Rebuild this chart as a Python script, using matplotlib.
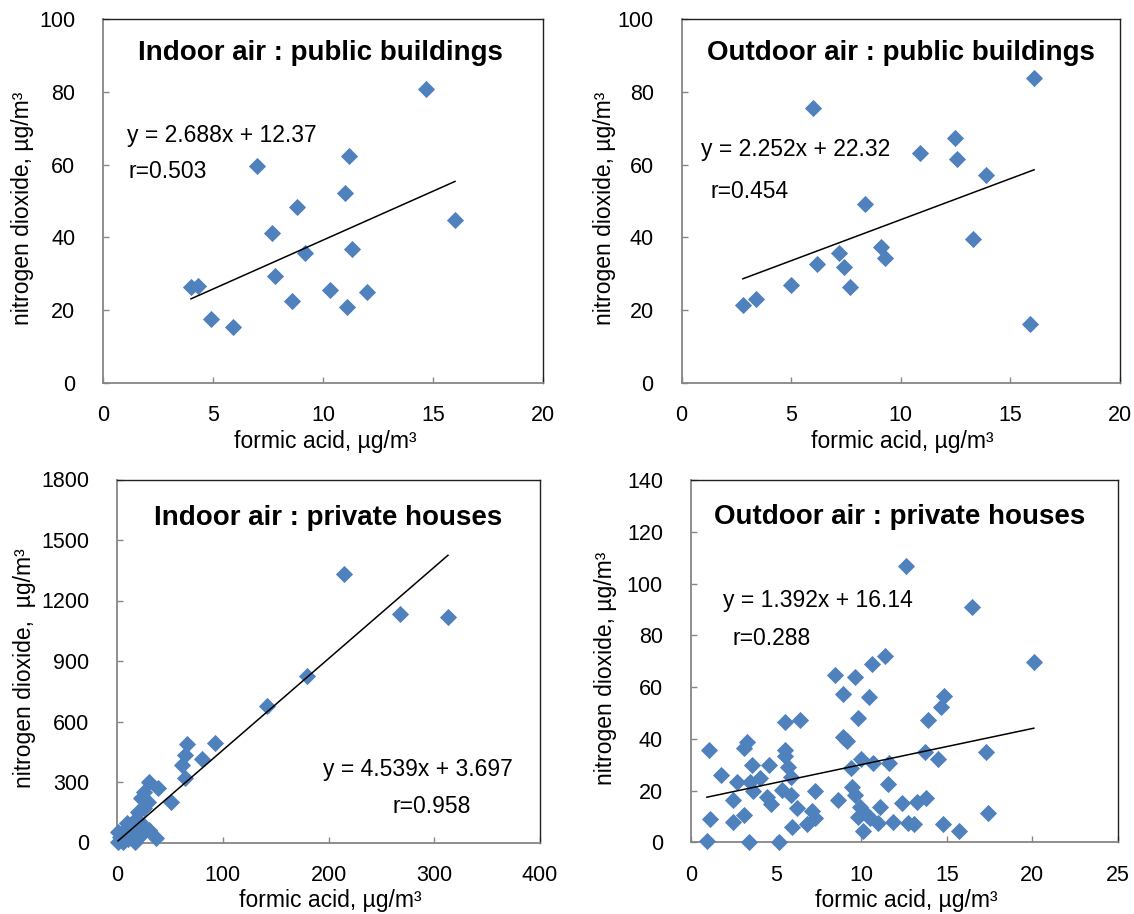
import matplotlib
matplotlib.use("Agg")
import matplotlib.pyplot as plt
import numpy as np

plt.rcParams['font.family'] = ['Liberation Sans', 'DejaVu Sans']

# ---------------- data ----------------
# Indoor air : public buildings
ipb_x = [14.7, 7.0, 11.2, 11.0, 8.8, 7.7, 16.0, 9.2, 11.3, 7.8, 4.0, 4.3, 10.3, 12.0, 8.6, 11.1, 4.9, 5.9]
ipb_y = [80.8, 59.6, 62.3, 52.2, 48.3, 41.3, 44.8, 35.6, 36.9, 29.4, 26.3, 26.7, 25.5, 25.0, 22.4, 20.9, 17.6, 15.4]

# Outdoor air : public buildings
opb_x = [16.1, 6.0, 12.5, 10.9, 12.6, 13.9, 8.4, 13.3, 9.1, 9.3, 7.2, 7.4, 6.2, 7.7, 5.0, 3.4, 2.8, 15.9]
opb_y = [83.9, 75.5, 67.2, 63.3, 61.5, 57.1, 49.2, 39.6, 37.4, 34.3, 35.6, 32.0, 32.6, 26.3, 26.8, 23.2, 21.4, 16.2]

# Indoor air : private houses
iph_x = [215, 268, 313, 180, 142, 93, 66, 64, 80, 61, 64, 51, 30, 39, 26, 23, 29, 26, 20, 15,
         22, 25, 9, 18, 1, 3, 14, 37, 1, 6, 17, 10, 5, 12, 20, 30, 8, 22]
iph_y = [1333, 1135, 1120, 828, 678, 495, 490, 435, 415, 385, 322, 200, 300, 268, 251, 219, 202, 169, 152, 103,
         103, 70, 95, 53, 50, 29, 29, 21, 4, 2, 2, 15, 10, 40, 60, 60, 60, 30]

# Outdoor air : private houses
oph_x = [12.6, 16.5, 20.1, 11.4, 10.6, 8.45, 9.6, 8.9, 10.45, 14.85,
         14.65, 9.8, 13.9, 5.5, 6.4, 8.9, 9.15, 1.05, 3.1, 3.3,
         5.5, 5.5, 13.7, 17.3, 14.5, 10.0, 10.7, 11.6, 9.4, 3.6,
         4.6, 5.7, 1.8, 2.7, 3.5, 4.05, 5.9, 3.65, 4.45, 5.35,
         5.85, 7.3, 9.45, 9.6, 11.55, 2.45, 4.7, 8.65, 6.2, 7.1,
         9.9, 11.1, 12.4, 13.25, 13.8, 1.15, 2.45, 3.1, 6.8, 7.3,
         5.95, 9.8, 10.5, 10.95, 11.85, 12.75, 13.1, 14.75, 17.4, 15.7,
         10.1, 0.95, 3.4, 5.2, 10.3]
oph_y = [106.6, 91.1, 69.5, 72.1, 69.0, 64.7, 63.8, 57.3, 56.0, 56.7,
         52.2, 48.0, 47.1, 46.7, 47.3, 40.6, 39.3, 35.7, 36.4, 38.7,
         35.7, 33.4, 34.8, 34.8, 32.4, 32.1, 30.6, 30.6, 28.7, 29.9,
         29.9, 29.3, 26.1, 23.5, 23.5, 24.8, 25.4, 19.9, 17.7, 20.3,
         18.3, 20.0, 21.3, 18.3, 22.6, 16.4, 14.8, 16.4, 13.2, 12.3,
         13.8, 13.6, 15.1, 15.7, 17.0, 9.0, 8.0, 10.6, 7.1, 9.3,
         5.8, 9.7, 9.3, 7.4, 8.0, 7.6, 7.0, 7.0, 11.5, 4.5,
         4.5, 0.5, 0.0, 0.0, 10.6]

titles = ["Indoor air : public buildings", "Outdoor air : public buildings",
          "Indoor air : private houses", "Outdoor air : private houses"]
slopes = [2.688, 2.252, 4.539, 1.392]
intercepts = [12.37, 22.32, 3.697, 16.14]
eq_labels = ["y = 2.688x + 12.37", "y = 2.252x + 22.32", "y = 4.539x + 3.697", "y = 1.392x + 16.14"]
r_labels = ["r=0.503", "r=0.454", "r=0.958", "r=0.288"]
xlims = [(0, 20), (0, 20), (0, 400), (0, 25)]
ylims = [(0, 100), (0, 100), (0, 1800), (0, 140)]
xtick_lists = [[0, 5, 10, 15, 20], [0, 5, 10, 15, 20], [0, 100, 200, 300, 400], [0, 5, 10, 15, 20, 25]]
ytick_lists = [[0, 20, 40, 60, 80, 100], [0, 20, 40, 60, 80, 100],
               [0, 300, 600, 900, 1200, 1500, 1800], [0, 20, 40, 60, 80, 100, 120, 140]]
xlabel = "formic acid, \u00b5g/m\u00b3"
ylabels = ["nitrogen dioxide, \u00b5g/m\u00b3", "nitrogen dioxide, \u00b5g/m\u00b3",
           "nitrogen dioxide,  \u00b5g/m\u00b3", "nitrogen dioxide, \u00b5g/m\u00b3"]
datasets = [(ipb_x, ipb_y), (opb_x, opb_y), (iph_x, iph_y), (oph_x, oph_y)]

# ---------------- layout (pixels) ----------------
W, H = 1134, 914
fig = plt.figure(figsize=(W / 100, H / 100), dpi=100)

rects_px = [(103, 19, 543, 383), (681.5, 19, 1119.5, 383),
            (117, 479.5, 540, 842.5), (690.7, 480, 1117.5, 842.4)]
title_px = [(320, 60), (901, 60), (328, 525), (900, 524)]
eq_px = [(127, 142), (701, 156), (323, 776), (723, 607)]
r_px = [(129, 178), (710, 198), (392, 813), (732, 645)]
ylab_x = [-0.182, -0.175, -0.2175, -0.20]

blue = "#4F81BD"
grey = "#868686"

for i in range(4):
    l, t, r, b = rects_px[i]
    ax = fig.add_axes([l / W, 1 - b / H, (r - l) / W, (b - t) / H])
    x, y = datasets[i]
    ax.plot(x, y, linestyle="none", marker="D", markersize=7.8,
            markerfacecolor=blue, markeredgecolor=blue, markeredgewidth=0.6,
            zorder=3, clip_on=False)
    xs = np.array([min(x), max(x)])
    ax.plot(xs, slopes[i] * xs + intercepts[i], color="black", lw=1.1, zorder=4)

    ax.set_xlim(*xlims[i])
    ax.set_ylim(*ylims[i])
    ax.set_xticks(xtick_lists[i])
    ax.set_yticks(ytick_lists[i])
    ax.tick_params(direction="in", length=4, width=1, color=grey, labelsize=15.5)
    ax.tick_params(axis="y", pad=20)
    ax.tick_params(axis="x", pad=16)
    for s in ("left", "bottom"):
        ax.spines[s].set_color(grey)
        ax.spines[s].set_linewidth(1.3)
    for s in ("top", "right"):
        ax.spines[s].set_color("#202020")
        ax.spines[s].set_linewidth(1.0)

    ax.set_xlabel(xlabel, fontsize=16.5, va="center")
    ax.xaxis.set_label_coords(0.505, -0.16)
    ax.set_ylabel(ylabels[i], fontsize=16.5, va="center")
    ax.yaxis.set_label_coords(ylab_x[i], 0.48)

    tx, ty = title_px[i]
    fig.text(tx / W, 1 - ty / H, titles[i], fontsize=20, fontweight="bold",
             ha="center", va="baseline")
    ex, ey = eq_px[i]
    fig.text(ex / W, 1 - ey / H, eq_labels[i], fontsize=16.5, ha="left", va="baseline")
    rx, ry = r_px[i]
    fig.text(rx / W, 1 - ry / H, r_labels[i], fontsize=16.5, ha="left", va="baseline")

fig.savefig("out.png", dpi=100)
